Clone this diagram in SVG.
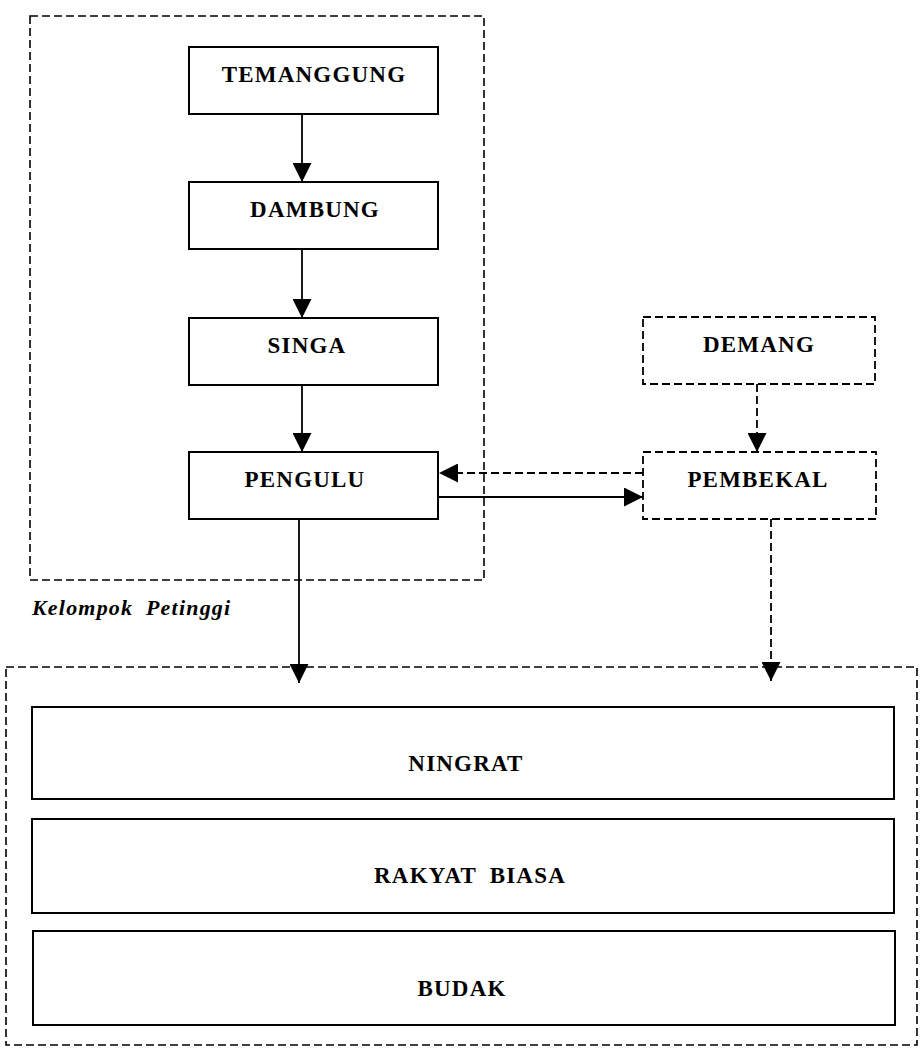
<svg xmlns="http://www.w3.org/2000/svg" width="921" height="1058" viewBox="0 0 921 1058">
<style>
.box{fill:#fff;stroke:#000;stroke-width:2}
.dbox{fill:none;stroke:#000;stroke-width:1.8;stroke-dasharray:8 4}
.grp{fill:none;stroke:#000;stroke-width:1.6;stroke-dasharray:8 4}
.lbl{font-family:"Liberation Serif","Times New Roman",serif;font-weight:bold;font-size:23px;letter-spacing:1.2px;text-anchor:middle;fill:#000}
.cap{font-family:"Liberation Serif","Times New Roman",serif;font-weight:bold;font-style:italic;font-size:22px;letter-spacing:1.2px;word-spacing:6px;fill:#000}
.ln{fill:none;stroke:#000;stroke-width:1.8}
.dl{fill:none;stroke:#000;stroke-width:1.8;stroke-dasharray:8 4}
</style>
<defs>
<marker id="ah" viewBox="0 0 10 10" refX="10" refY="5" markerUnits="userSpaceOnUse" markerWidth="19" markerHeight="19" orient="auto">
<path d="M0,0 L10,5 L0,10 z" fill="#000"/>
</marker>
</defs>
<rect width="921" height="1058" fill="#fff"/>

<g id="kelompok-petinggi">
<rect class="grp" x="30" y="16" width="454" height="564"/>
<text class="cap" x="32" y="615">Kelompok Petinggi</text>
</g>
<g id="lapisan-masyarakat">
<rect class="grp" x="6" y="667" width="911" height="378"/>
</g>

<g id="connectors">
<line class="ln" x1="302" y1="114" x2="302" y2="182" marker-end="url(#ah)"/>
<line class="ln" x1="302" y1="249" x2="302" y2="318" marker-end="url(#ah)"/>
<line class="ln" x1="302" y1="385" x2="302" y2="452" marker-end="url(#ah)"/>
<line class="dl" x1="757" y1="384" x2="757" y2="452" marker-end="url(#ah)"/>
<line class="dl" x1="643" y1="473" x2="439" y2="473" marker-end="url(#ah)"/>
<line class="ln" x1="439" y1="497" x2="643" y2="497" marker-end="url(#ah)"/>
<line class="ln" x1="299" y1="519" x2="299" y2="683" marker-end="url(#ah)"/>
<line class="dl" x1="771" y1="519" x2="771" y2="681" marker-end="url(#ah)"/>
</g>

<g id="temanggung">
<rect class="box" x="189" y="47" width="249" height="67"/>
<text class="lbl" x="314" y="82">TEMANGGUNG</text>
</g>
<g id="dambung">
<rect class="box" x="189" y="182" width="249" height="67"/>
<text class="lbl" x="315" y="217">DAMBUNG</text>
</g>
<g id="singa">
<rect class="box" x="189" y="318" width="249" height="67"/>
<text class="lbl" x="307" y="353">SINGA</text>
</g>
<g id="pengulu">
<rect class="box" x="189" y="452" width="249" height="67"/>
<text class="lbl" x="305" y="487">PENGULU</text>
</g>
<g id="demang">
<rect class="dbox" x="643" y="317" width="232" height="67"/>
<text class="lbl" x="759" y="352">DEMANG</text>
</g>
<g id="pembekal">
<rect class="dbox" x="643" y="452" width="233" height="67"/>
<text class="lbl" x="758" y="487">PEMBEKAL</text>
</g>

<g id="ningrat">
<rect class="box" x="32" y="707" width="862" height="92"/>
<text class="lbl" x="466" y="771">NINGRAT</text>
</g>
<g id="rakyat-biasa">
<rect class="box" x="32" y="819" width="862" height="94"/>
<text class="lbl" x="470" y="883" word-spacing="6">RAKYAT BIASA</text>
</g>
<g id="budak">
<rect class="box" x="33" y="931" width="862" height="94"/>
<text class="lbl" x="462" y="996">BUDAK</text>
</g>
</svg>
